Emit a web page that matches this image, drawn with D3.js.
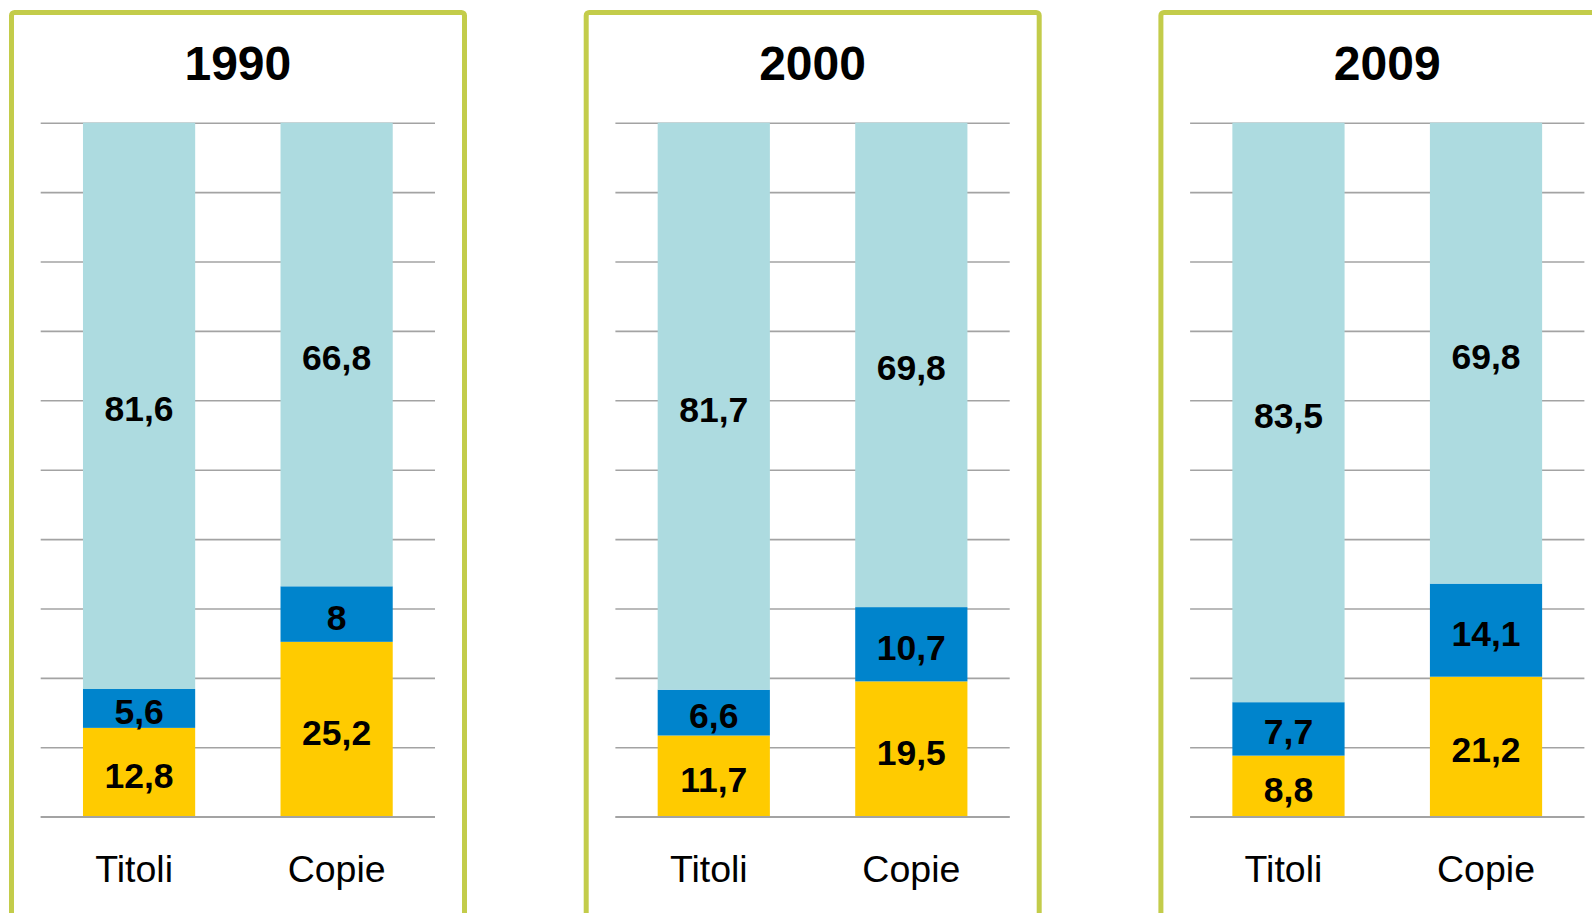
<!DOCTYPE html>
<html>
<head>
<meta charset="utf-8">
<script src="https://cdn.jsdelivr.net/npm/d3@7"></script>
<style>
  html, body { margin: 0; padding: 0; background: #fff; overflow: hidden; }
  svg { display: block; }
  .grid line { stroke: #a3a3a3; stroke-width: 1.6; }
  .grid .domain { display: none; }
  .cats .domain, .cats line { display: none; }
</style>
</head>
<body>
<svg id="chart" width="1592" height="913"></svg>
<script>
const years = ['1990', '2000', '2009']
const categories = ['Titoli', 'Copie']
const seriesKeys = ['giallo', 'blu', 'azzurro']
// one entry per year, [Titoli, Copie]
const yellowValues = [[12.8, 25.2], [11.7, 19.5], [8.8, 21.2]]
const blueValues = [[5.6, 8], [6.6, 10.7], [7.7, 14.1]]
const lightValues = [[81.6, 66.8], [81.7, 69.8], [83.5, 69.8]]

const colors = { giallo: '#ffcb00', blu: '#0084cc', azzurro: '#addbe0' }
const font = "'Liberation Sans', Arial, Helvetica, sans-serif"

const panelStep = 574.7
const frame = { left: 11.5, top: 12.5, width: 453, stroke: 5 }
const plot = { left: 40.7, right: 435, top: 122.7, bottom: 816.7 }

const svg = d3.select('#chart')

const y = d3.scaleLinear().domain([0, 1]).range([plot.bottom, plot.top])
const x = d3.scaleBand().domain(categories)
	.range([plot.left, plot.right])
	.paddingInner(0.432).paddingOuter(0.214)

const stack = d3.stack().keys(seriesKeys).offset(d3.stackOffsetExpand)

years.forEach((year, i) => {
	const g = svg.append('g').attr('transform', `translate(${i * panelStep}, 0)`)

	const rows = categories.map((cat, j) => ({
		cat,
		giallo: yellowValues[i][j],
		blu: blueValues[i][j],
		azzurro: lightValues[i][j]
	}))
	const layers = stack(rows)

	// frame
	g.append('rect')
		.attr('x', frame.left).attr('y', frame.top)
		.attr('width', frame.width).attr('height', 960)
		.attr('rx', 3)
		.attr('fill', 'none')
		.attr('stroke', '#c3cc4a')
		.attr('stroke-width', frame.stroke)

	// title
	g.append('text')
		.attr('x', (plot.left + plot.right) / 2).attr('y', 80)
		.attr('text-anchor', 'middle')
		.style('font-family', font).style('font-weight', 'bold').style('font-size', '48px')
		.text(year)

	// gridlines
	g.append('g').attr('class', 'grid')
		.attr('transform', `translate(${plot.left}, 0)`)
		.call(d3.axisLeft(y).ticks(10).tickSize(-(plot.right - plot.left)).tickFormat(''))

	// bars
	layers.forEach(layer => {
		g.append('g').selectAll('rect').data(layer)
			.enter().append('rect')
			.attr('x', d => x(d.data.cat))
			.attr('width', x.bandwidth())
			.attr('y', d => y(d[1]))
			.attr('height', d => y(d[0]) - y(d[1]))
			.attr('fill', colors[layer.key])

		g.append('g').selectAll('text').data(layer)
			.enter().append('text')
			.attr('x', d => x(d.data.cat) + x.bandwidth() / 2)
			.attr('y', d => (y(d[0]) + y(d[1])) / 2 + 15.5)
			.attr('text-anchor', 'middle')
			.style('font-family', font).style('font-weight', 'bold').style('font-size', '35.5px')
			.text(d => String(d.data[layer.key]).replace('.', ','))
	})

	// baseline over bars
	g.append('line')
		.attr('x1', plot.left).attr('x2', plot.right)
		.attr('y1', plot.bottom).attr('y2', plot.bottom)
		.attr('stroke', '#a3a3a3').attr('stroke-width', 1.6)

	// category labels
	g.append('g').attr('class', 'cats')
		.attr('transform', `translate(0, ${plot.bottom})`)
		.call(d3.axisBottom(x).tickSize(0).tickPadding(39))
		.selectAll('text')
		.attr('fill', '#000')
		.attr('dx', d => d === 'Titoli' ? -5 : 0)
		.style('font-family', font).style('font-size', '37.5px')
})
</script>
</body>
</html>
